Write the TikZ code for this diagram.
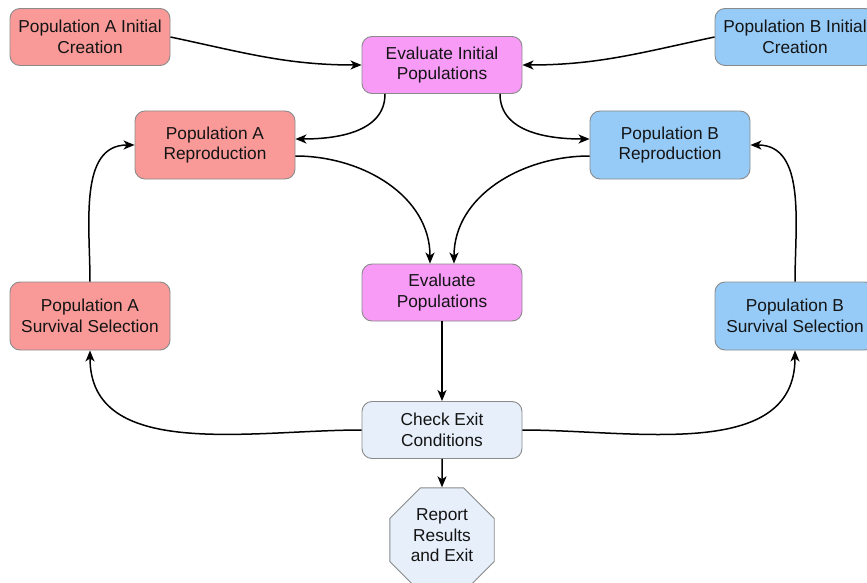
\documentclass[tikz,border=0pt]{standalone}
\usepackage{fontspec}
\setmainfont{Liberation Sans}
\usetikzlibrary{arrows.meta,shapes.geometric}
\definecolor{popA}{HTML}{F99A98}
\definecolor{popB}{HTML}{96CBF8}
\definecolor{evalc}{HTML}{F79BF7}
\definecolor{checkc}{HTML}{E6EFFA}
\definecolor{bordc}{HTML}{8A8A8A}
\definecolor{txtc}{HTML}{141414}
\tikzset{
  box/.style={draw=bordc, line width=0.9pt, rounded corners=10pt, minimum width=160pt,
    align=center, text=txtc, inner sep=0pt, font=\fontsize{17.3}{20.5}\selectfont},
  shortbox/.style={box, minimum height=57pt},
  tallbox/.style={box, minimum height=68pt},
  conn/.style={draw=black, line width=1.5pt, -{Stealth[length=11pt,width=9pt,inset=3pt]}},
}
\begin{document}
\begin{tikzpicture}[x=1pt,y=-1pt]
\useasboundingbox (0,0) rectangle (867,583);
\node[shortbox, fill=popA] (popAInit) at (90,37) {Population A Initial\\Creation};
\node[shortbox, fill=evalc] (evalInit) at (442,65) {Evaluate Initial\\Populations};
\node[shortbox, fill=popB] (popBInit) at (795,37) {Population B Initial\\Creation};
\node[tallbox, fill=popA] (popARepro) at (215,145) {Population A\\Reproduction};
\node[tallbox, fill=popB] (popBRepro) at (670,145) {Population B\\Reproduction};
\node[shortbox, fill=evalc] (evalPop) at (442,292.5) {Evaluate\\Populations};
\node[tallbox, fill=popA] (popASurv) at (90,316) {Population A\\Survival Selection};
\node[tallbox, fill=popB] (popBSurv) at (795,316) {Population B\\Survival Selection};
\node[shortbox, fill=checkc] (check) at (442,430) {Check Exit\\Conditions};
\node[draw=bordc, line width=0.9pt, fill=checkc, regular polygon, regular polygon sides=8,
  minimum size=113pt, inner sep=0pt, text=txtc,
  font=\fontsize{17.3}{20.5}\selectfont] (report) at (442,540)
  {\raisebox{3pt}[\height][\depth]{\begin{tabular}{@{}c@{}}Report\\Results\\and Exit\end{tabular}}};

\draw[conn] (popAInit.east) to[out=-12,in=180] (evalInit.west);
\draw[conn] (popBInit.west) to[out=192,in=0] (evalInit.east);
\draw[conn] ([xshift=-57pt]evalInit.south) to[out=-90,in=0] ([yshift=6pt]popARepro.east);
\draw[conn] ([xshift=58pt]evalInit.south) to[out=-90,in=180] ([yshift=6pt]popBRepro.west);
\draw[conn] ([yshift=-11pt]popARepro.east) to[out=0,in=90] ([xshift=-12pt]evalPop.north);
\draw[conn] ([yshift=-11pt]popBRepro.west) to[out=180,in=90] ([xshift=12pt]evalPop.north);
\draw[conn] (evalPop.south) -- (check.north);
\draw[conn] (check.west) to[out=180,in=-90] (popASurv.south);
\draw[conn] (check.east) to[out=0,in=-90] (popBSurv.south);
\draw[conn] (popASurv.north) to[out=90,in=180] (popARepro.west);
\draw[conn] (popBSurv.north) to[out=90,in=0] (popBRepro.east);
\draw[conn] (check.south) -- (report.north);
\end{tikzpicture}
\end{document}
